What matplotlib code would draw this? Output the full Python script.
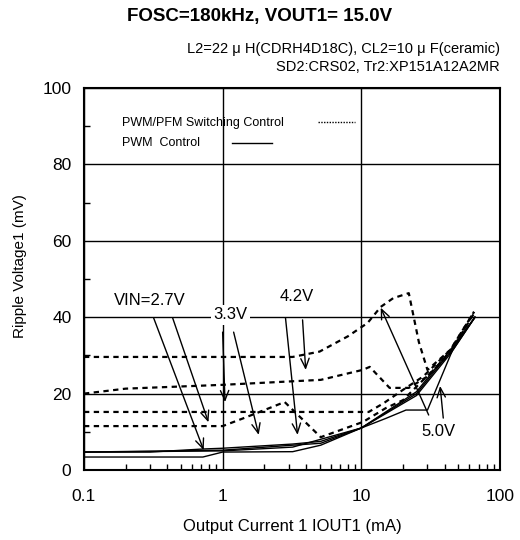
import numpy as np
import matplotlib
matplotlib.use("Agg")
import matplotlib.pyplot as plt
from matplotlib.ticker import LogLocator, FixedLocator, NullFormatter

plt.rcParams['font.family'] = ['Liberation Sans', 'DejaVu Sans']

# PWM/PFM switching control (dotted)
iout_27_pfm = [0.1, 1.0, 1.4, 2.0, 2.8, 5.1, 10.3, 15, 20, 28, 44, 65]
rip_27_pfm = [11.5, 11.5, 13.5, 15.7, 17.8, 8.6, 12.6, 16.2, 18.3, 23.6, 30.6, 41.4]
iout_33_pfm = [0.1, 11.3, 14.5, 20, 28, 44, 65]
rip_33_pfm = [15.2, 15.2, 17.5, 21, 24.5, 31.5, 41.4]
iout_42_pfm = [0.1, 0.2, 1.0, 5.1, 10.2, 11.5, 16, 22, 30, 44, 65]
rip_42_pfm = [20, 21.3, 22.3, 23.6, 26.2, 27, 21.5, 21.5, 24.5, 31, 41]
iout_50_pfm = [0.1, 3.2, 5, 8, 11.1, 13.8, 17, 22, 26, 30, 44, 65]
rip_50_pfm = [29.6, 29.6, 31, 35, 38.5, 42.7, 45, 46.3, 33.5, 26.2, 31.5, 41.4]

# PWM control (solid)
iout_27_pwm = [0.1, 0.72, 1.0, 3.2, 5.1, 10, 25, 44, 66]
rip_27_pwm = [3.4, 3.4, 4.7, 4.8, 6.5, 11, 20, 31, 40]
iout_33_pwm = [0.1, 0.3, 0.72, 1.0, 3.2, 5.1, 10, 25, 44, 66]
rip_33_pwm = [4.7, 4.7, 5.5, 5.7, 6.8, 7.5, 11, 20.5, 31.5, 40]
iout_42_pwm = [0.1, 1.0, 3.2, 5.1, 10, 25, 44, 66]
rip_42_pwm = [4.7, 5.2, 6.5, 7.0, 11, 19.5, 30.5, 40]
iout_50_pwm = [0.1, 1.0, 3.2, 10, 15, 21, 30, 45, 66]
rip_50_pwm = [4.7, 5.0, 6.0, 11, 13.5, 15.7, 15.7, 31, 40]

pfm = [(iout_27_pfm, rip_27_pfm), (iout_33_pfm, rip_33_pfm),
       (iout_42_pfm, rip_42_pfm), (iout_50_pfm, rip_50_pfm)]
pwm = [(iout_27_pwm, rip_27_pwm), (iout_33_pwm, rip_33_pwm),
       (iout_42_pwm, rip_42_pwm), (iout_50_pwm, rip_50_pwm)]

# labels: text, text position, list of (arrow start, arrow tip)
labels = [
    ("VIN=2.7V", (0.30, 44.5), [((0.318, 39.8), (0.73, 5.2)), ((0.436, 39.8), (0.79, 12.5))]),
    ("3.3V", (1.14, 40.6), [((1.0, 36.1), (1.04, 17.8)), ((1.2, 36.1), (1.82, 9.2))]),
    ("4.2V", (3.42, 45.3), [((2.84, 39.8), (3.47, 9.2)), ((3.77, 39.3), (3.97, 26.2))]),
    ("5.0V", (36, 10), [((30.6, 14.4), (13.8, 42.5)), ((39, 13.6), (37, 22))]),
]

fig = plt.figure(figsize=(5.2, 5.4), dpi=100)
ax = fig.add_axes([0.1615, 0.1296, 0.8, 0.7074])

for x, y in pfm:
    ax.plot(x, y, color='black', lw=1.6, linestyle=(0, (2.4, 2.0)))
for x, y in pwm:
    ax.plot(x, y, color='black', lw=1.0)

for txt, pos, arrows in labels:
    bbox = dict(facecolor='white', edgecolor='none', pad=2) if txt == "3.3V" else None
    ax.text(pos[0], pos[1], txt, ha='center', va='center', fontsize=12, bbox=bbox, zorder=5)
    for start, tip in arrows:
        ax.annotate('', xy=tip, xytext=start,
                    arrowprops=dict(arrowstyle='->,head_length=0.7,head_width=0.3',
                                    color='black', lw=1.0, shrinkA=0, shrinkB=0))

# legend drawn by hand like the original
ax.text(0.091, 0.908, "PWM/PFM Switching Control", transform=ax.transAxes,
        fontsize=9, va='center', ha='left')
ax.text(0.091, 0.856, "PWM  Control", transform=ax.transAxes,
        fontsize=9, va='center', ha='left')
ax.plot([0.5625, 0.651], [0.91, 0.91], transform=ax.transAxes, color='black',
        lw=1.0, linestyle=(0, (1, 1)))
ax.plot([0.356, 0.452], [0.856, 0.856], transform=ax.transAxes, color='black', lw=1.0)

ax.set_xscale('log')
ax.set_xlim(0.1, 100)
ax.set_ylim(0, 100)
ax.xaxis.set_major_locator(FixedLocator([0.1, 1, 10, 100]))
ax.set_xticklabels(['0.1', '1', '10', '100'])
ax.xaxis.set_minor_locator(LogLocator(base=10, subs=np.arange(2, 10)))
ax.xaxis.set_minor_formatter(NullFormatter())
ax.yaxis.set_major_locator(FixedLocator(np.arange(0, 101, 20)))
ax.yaxis.set_minor_locator(FixedLocator(np.arange(10, 100, 20)))
ax.grid(True, which='major', color='black', lw=1.0)
ax.tick_params(which='major', length=0, labelsize=12.5)
ax.tick_params(axis='x', which='major', pad=14)
ax.tick_params(axis='y', which='major', pad=9)
ax.tick_params(which='minor', direction='in', length=4, width=1.0)
for s in ax.spines.values():
    s.set_linewidth(1.5)

ax.set_xlabel("Output Current 1 IOUT1 (mA)", fontsize=12)
ax.set_ylabel("Ripple Voltage1 (mV)", fontsize=11)
ax.xaxis.set_label_coords(0.5, -0.149)
ax.yaxis.set_label_coords(-0.154, 0.534)
ax.xaxis.label.set_va('center')
ax.yaxis.label.set_va('center')

fig.text(0.5, 0.970, "FOSC=180kHz, VOUT1= 15.0V", ha='center', va='center',
         fontsize=13.5, fontweight='bold')
fig.text(0.9615, 0.909, "L2=22 \u03bc H(CDRH4D18C), CL2=10 \u03bc F(ceramic)", ha='right',
         va='center', fontsize=10.5)
fig.text(0.9615, 0.876, "SD2:CRS02, Tr2:XP151A12A2MR", ha='right', va='center', fontsize=10.5)

fig.savefig("out.png", dpi=100)
